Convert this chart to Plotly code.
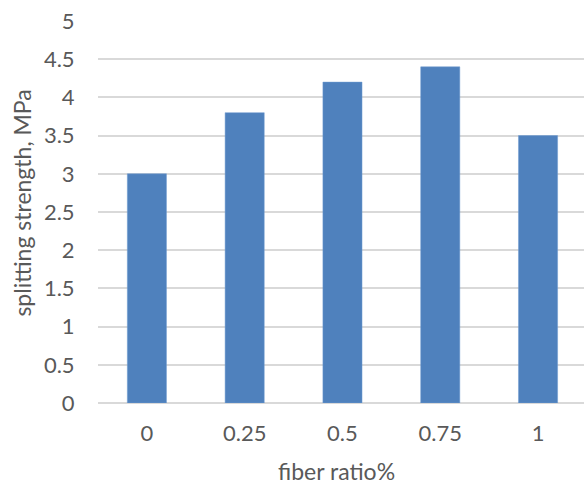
import plotly.graph_objects as go

categories = ["0", "0.25", "0.5", "0.75", "1"]
strength = [3.0, 3.8, 4.2, 4.4, 3.5]
y_ticks = [0, 0.5, 1, 1.5, 2, 2.5, 3, 3.5, 4, 4.5, 5]
y_tick_labels = ["0", "0.5", "1", "1.5", "2", "2.5", "3", "3.5", "4", "4.5", "5"]
x_title = "fiber ratio%"
y_title = "splitting strength, MPa"

FONT = "Lato, 'Open Sans', sans-serif"
TXT = "#595959"

fig = go.Figure(go.Bar(
    x=categories, y=strength,
    marker=dict(color="#4F81BD", line=dict(color="#6E9AD0", width=0.5)),
    hoverinfo="x+y",
))

fig.update_layout(
    width=584, height=484,
    margin=dict(l=98, r=0, t=21, b=81),
    paper_bgcolor="white", plot_bgcolor="white",
    bargap=0.6,
    showlegend=False,
    font=dict(family=FONT, color=TXT, size=22),
    xaxis=dict(
        type="category",
        automargin=False,
        range=[-0.5, 4.47],
        showgrid=False, zeroline=False,
        showline=False,
        ticks="outside", ticklen=11, tickcolor="rgba(0,0,0,0)",
        tickfont=dict(size=22, color=TXT, family=FONT),
    ),
    yaxis=dict(
        automargin=False,
        range=[0, 5],
        tickvals=y_ticks, ticktext=y_tick_labels,
        showgrid=True, gridcolor="#D9D9D9", gridwidth=1.5,
        zeroline=True, zerolinecolor="#D9D9D9", zerolinewidth=1.5,
        showline=False,
        ticks="outside", ticklen=18, tickcolor="rgba(0,0,0,0)",
        tickfont=dict(size=22, color=TXT, family=FONT),
    ),
    annotations=[
        dict(text=x_title, xref="paper", yref="paper", x=0.4907, y=0,
             xanchor="center", yanchor="middle", yshift=-68, showarrow=False,
             font=dict(size=23, color=TXT, family=FONT)),
        dict(text=y_title, xref="paper", yref="paper", x=0, y=0.522,
             xanchor="center", yanchor="middle", xshift=-76, textangle=-90,
             showarrow=False, font=dict(size=23, color=TXT, family=FONT)),
    ],
)

fig.write_html(
    "out.html",
    config={"displayModeBar": False},
    post_script="document.body.style.margin='0';document.body.style.overflow='hidden';",
)
